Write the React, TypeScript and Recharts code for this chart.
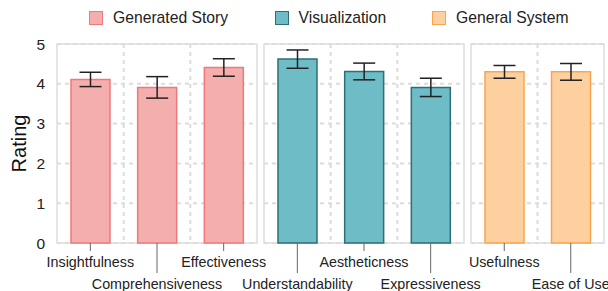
import React from 'react';
import { BarChart, Bar, XAxis, YAxis, CartesianGrid, ErrorBar, ReferenceArea } from 'recharts';

const storyCategories = ['Insightfulness', 'Comprehensiveness', 'Effectiveness'];
const storyMeans = [4.11, 3.91, 4.41];
const storyErrors = [0.18, 0.27, 0.22];

const vizCategories = ['Understandability', 'Aestheticness', 'Expressiveness'];
const vizMeans = [4.62, 4.31, 3.91];
const vizErrors = [0.23, 0.21, 0.23];

const systemCategories = ['Usefulness', 'Ease of Use'];
const systemMeans = [4.3, 4.3];
const systemErrors = [0.16, 0.21];

const yTicks = [0, 1, 2, 3, 4, 5];

const legendItems = ['Generated Story', 'Visualization', 'General System'];

const FONT = '"Liberation Sans", Arial, Helvetica, sans-serif';

const palette = [
  { fill: '#f4aeae', stroke: '#f07878' },
  { fill: '#6dbcc6', stroke: '#2e6e77' },
  { fill: '#fed0a0', stroke: '#f9a54f' },
];

const build = (cats: string[], means: number[], errs: number[]) =>
  cats.map((c, i) => ({ name: c, value: means[i], err: errs[i] }));

const makeTick = (startIndex: number) => (props: any) => {
  const { x, y, payload, index } = props;
  const second = (startIndex + index) % 2 === 1;
  return (
    <g>
      <line x1={x} x2={x} y1={y} y2={y + (second ? 30 : 8)} stroke="#666" strokeWidth={1} />
      <text
        x={x}
        y={y + (second ? 46.3 : 24.3)}
        textAnchor="middle"
        fontSize={14.3}
        fill="#222"
        fontFamily={FONT}
      >
        {payload.value}
      </text>
    </g>
  );
};

const vGen = (n: number) => (args: any) => {
  const { offset } = args;
  const out: number[] = [];
  for (let i = 1; i < n; i++) out.push(offset.left + (i * offset.width) / n);
  return out;
};

type PanelProps = {
  cats: string[];
  means: number[];
  errs: number[];
  colorIdx: number;
  startIndex: number;
  left: number;
  right: number;
  showY: boolean;
};

const Panel = ({ cats, means, errs, colorIdx, startIndex, left, right, showY }: PanelProps) => {
  const data = build(cats, means, errs);
  const c = palette[colorIdx];
  return (
    <div style={{ position: 'absolute', left: 0, top: 0 }}>
      <BarChart
        width={608}
        height={291}
        data={data}
        margin={{ top: 44, bottom: 0, left: showY ? 0 : left, right }}
      >
        <CartesianGrid
          stroke="#dcdcdc"
          strokeWidth={2}
          strokeDasharray="4 4"
          verticalCoordinatesGenerator={vGen(cats.length)}
        />
        <ReferenceArea y1={0} y2={5} fill="none" stroke="#dddddd" strokeWidth={1.5} ifOverflow="visible" />
        <XAxis
          dataKey="name"
          height={48}
          axisLine={false}
          tickLine={false}
          tickSize={0}
          tickMargin={0}
          interval={0}
          tick={makeTick(startIndex)}
        />
        <YAxis
          domain={[0, 5]}
          ticks={yTicks}
          hide={!showY}
          width={showY ? left : 0}
          axisLine={false}
          tickLine={false}
          tickSize={0}
          tickMargin={12}
          tick={{ fontSize: 15.5, fill: '#222', fontFamily: FONT }}
          label={
            showY
              ? { value: 'Rating', angle: -90, position: 'center', dx: -10, fontSize: 20, fill: '#111', fontFamily: FONT }
              : undefined
          }
        />
        <Bar dataKey="value" fill={c.fill} stroke={c.stroke} strokeWidth={1.5} barSize={39} isAnimationActive={false}>
          <ErrorBar dataKey="err" width={11} stroke="#222" strokeWidth={1.5} direction="y" />
        </Bar>
      </BarChart>
    </div>
  );
};

export default function App() {
  const legendLefts = [89, 274.5, 432];
  return (
    <div style={{ position: 'absolute', left: 0, top: 0, width: 608, height: 291, background: '#fff', overflow: 'hidden' }}>
      <Panel cats={storyCategories} means={storyMeans} errs={storyErrors} colorIdx={0} startIndex={0} left={57} right={351} showY />
      <Panel cats={vizCategories} means={vizMeans} errs={vizErrors} colorIdx={1} startIndex={3} left={264} right={144} showY={false} />
      <Panel cats={systemCategories} means={systemMeans} errs={systemErrors} colorIdx={2} startIndex={6} left={471} right={4} showY={false} />
      {legendItems.map((name, i) => (
        <div
          key={name}
          style={{
            position: 'absolute',
            left: legendLefts[i],
            top: 9,
            height: 18,
            display: 'flex',
            alignItems: 'center',
            fontFamily: FONT,
            fontSize: 15.7,
            color: '#222',
            whiteSpace: 'nowrap',
          }}
        >
          <span
            style={{
              display: 'inline-block',
              width: 12,
              height: 12,
              background: palette[i].fill,
              border: `1.5px solid ${palette[i].stroke}`,
              marginRight: 10,
            }}
          />
          <span>{name}</span>
        </div>
      ))}
    </div>
  );
}
